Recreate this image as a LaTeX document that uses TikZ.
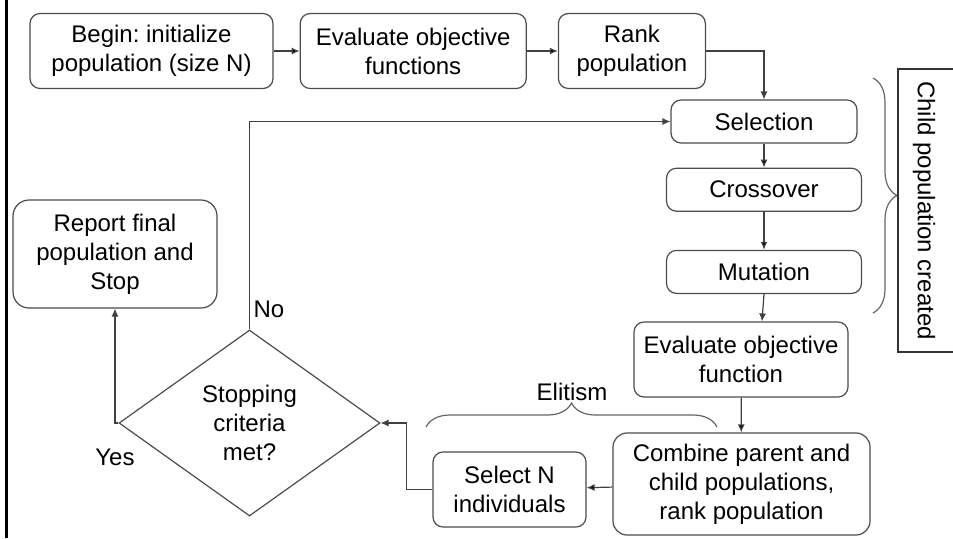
\documentclass[tikz,border=0pt]{standalone}
\usepackage{fontspec}
\setmainfont{Liberation Sans}
\usetikzlibrary{positioning,shapes.geometric,arrows.meta,decorations.pathreplacing}
\frenchspacing

\begin{document}
\begin{tikzpicture}[x=0.5pt, y=-0.5pt, line width=0.6pt,
		font=\fontsize{12}{14.5}\selectfont,
		proc/.style = {draw=black!70, rounded corners=5pt, align=center, minimum height=37.5pt},
		cond/.style = {draw=black!70, diamond, align=center, inner sep=0pt, minimum width=130.5pt, minimum height=93pt},
		link/.style = {draw=black!75, -{Latex[length=4pt,width=3.5pt]}},
		curly/.style = {draw=black!60, decorate, decoration={brace, amplitude=12pt}}]
		\useasboundingbox (0,0) rectangle (953,538);
		\draw[line width=1.5pt] (6.5,0) -- (6.5,538);
		% top row
		\node[proc, minimum width=121.5pt] (begin) at (151.5,51) {Begin: initialize\\population (size N)};
		\node[proc, minimum width=113pt] (evalf) [right=13pt of begin] {Evaluate objective\\functions};
		\node[proc, minimum width=73.5pt] (rank) [right=15.5pt of evalf] {Rank\\population};
		% child population column
		\node[proc, minimum width=93pt, minimum height=21.5pt] (sel) at (764,121.5) {Selection};
		\node[proc, minimum width=97.5pt, minimum height=21.5pt] (cross) [below=12pt of sel] {Crossover};
		\node[proc, minimum width=97.5pt, minimum height=21.5pt] (mut) [below=19pt of cross] {Mutation};
		\node[proc, minimum width=107pt] (evalo) at (741,359.5) {Evaluate objective\\function};
		\node[proc, minimum width=128.5pt, minimum height=51pt, rounded corners=7pt] (comb) at (741.5,484) {Combine parent and\\child populations,\\rank population};
		\node[proc, minimum width=76.5pt] (seln) at (509.5,489.5) {Select N\\individuals};
		% decision and end
		\node[cond] (stop) at (249.5,423) {Stopping\\criteria\\met?};
		\node[proc, minimum width=102pt, minimum height=54pt, rounded corners=8pt] (report) at (115,254) {Report final\\population and\\Stop};
		\node (no) at (269,309) {No};
		\node (yes) at (115,457) {Yes};
		\path[link] (begin) edge (evalf)
			(evalf) edge (rank)
			(sel) edge (cross)
			(cross) edge (mut)
			(evalo) edge (comb)
			(comb) edge (seln);
		\draw[link] (rank) -| (sel);
		\draw[link] (mut.south) -- ([xshift=-1pt]mut.south |- evalo.north);
		\draw[link] (seln.west) -- ++(-26,0) |- (stop.east);
		\draw[link] (stop.north) |- (sel.west);
		\draw[link] (stop.west) -| (report.south);
		% braces
		\draw[curly] (426,427) -- (717,427);
		\node (elit) at (572,392) {Elitism};
		\draw[curly] (873,78) -- (873,313);
		\draw[draw=black!80] (953,69) -- (898,69) -- (898,352) -- (953,352);
		\node[rotate=-90] (child) at (924,210.5) {Child population created};
	\end{tikzpicture}
\end{document}
